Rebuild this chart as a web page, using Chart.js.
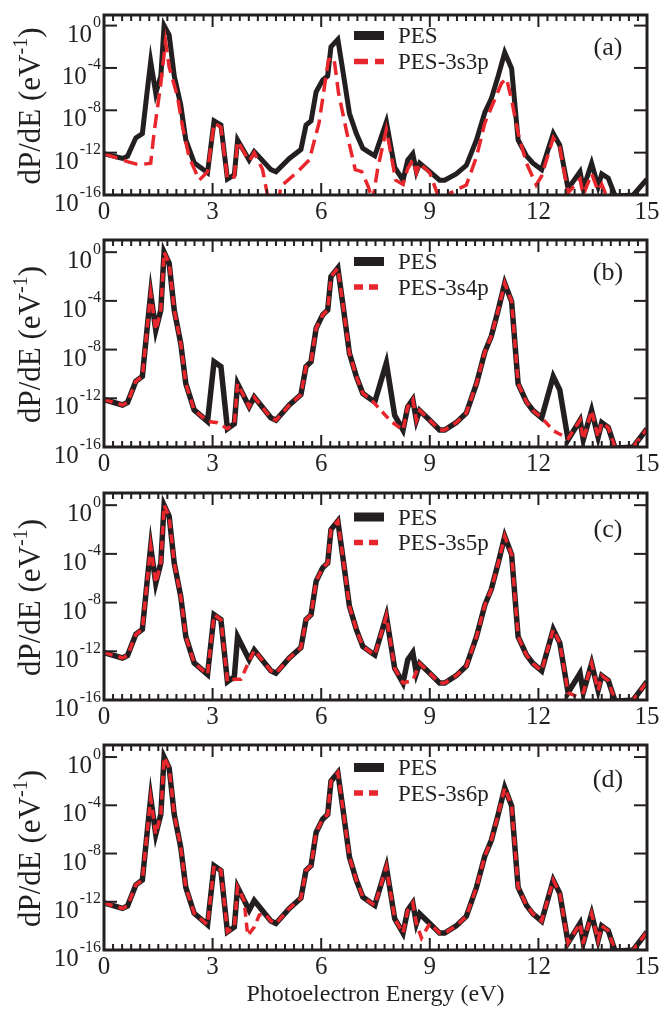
<!DOCTYPE html>
<html>
<head>
<meta charset="utf-8">
<script src="https://cdn.jsdelivr.net/npm/chart.js@4.4.1/dist/chart.umd.min.js"></script>
<style>
  html, body { margin: 0; padding: 0; background: #fff; }
  body { width: 663px; height: 1009px; position: relative; overflow: hidden; }
  .panel { position: absolute; left: 0; width: 663px; }
</style>
</head>
<body>
<div class="panel" style="top:0px;height:232px"><canvas id="chartA" width="663" height="232"></canvas></div>
<div class="panel" style="top:232px;height:250px"><canvas id="chartB" width="663" height="250"></canvas></div>
<div class="panel" style="top:482px;height:250px"><canvas id="chartC" width="663" height="250"></canvas></div>
<div class="panel" style="top:732px;height:277px"><canvas id="chartD" width="663" height="277"></canvas></div>
<script>
// full photoelectron spectrum, energy in eV and log10 of dP/dE
const pesEnergy = [
    0.00, 0.51, 0.65, 0.88, 1.06, 1.20, 1.29, 1.43, 1.57, 1.66,
    1.80, 1.94, 2.12, 2.26, 2.49, 2.86, 3.04, 3.23, 3.41, 3.60,
    3.69, 4.01, 4.15, 4.61, 4.75, 5.12, 5.44, 5.58, 5.72, 5.86,
    6.04, 6.18, 6.27, 6.46, 6.60, 6.78, 6.97, 7.15, 7.38, 7.48,
    7.80, 8.03, 8.26, 8.39, 8.53, 8.63, 8.72, 9.00, 9.27, 9.41,
    9.73, 10.01, 10.29, 10.52, 10.70, 10.89, 11.07, 11.26, 11.44, 11.67,
    11.85, 12.09, 12.41, 12.59, 12.82, 13.15, 13.24, 13.47, 13.65, 13.75,
    13.93, 14.12, 14.62, 15.00
];
const pesLog = [
    -12.1, -12.55, -12.35, -10.6, -10.2, -6.0, -3.4, -6.4, -4.75, 0.0,
    -0.9, -4.75, -7.5, -10.8, -12.95, -13.9, -9.0, -9.4, -14.5, -14.1,
    -10.8, -12.7, -11.9, -13.6, -13.8, -12.55, -11.7, -9.4, -9.0, -6.25,
    -5.15, -4.75, -2.0, -1.3, -4.3, -8.3, -10.2, -11.6, -12.1, -12.3,
    -9.1, -13.4, -14.6, -12.7, -12.1, -13.8, -13.0, -13.8, -14.6, -14.6,
    -14.0, -13.2, -10.8, -8.2, -6.9, -4.75, -2.55, -4.05, -10.8, -12.3,
    -13.0, -13.6, -10.2, -11.3, -15.4, -13.8, -15.4, -13.0, -15.2, -14.0,
    -14.4, -16.1, -16.0, -14.5
];

// PES-3s3p (panel a)
const pes3s3pEnergy = [
    0.00, 0.65, 0.97, 1.29, 1.38, 1.57, 1.70, 1.80, 2.03, 2.17,
    2.35, 2.63, 2.86, 3.04, 3.23, 3.41, 3.60, 3.69, 4.01, 4.15,
    4.38, 4.47, 4.60, 4.80, 4.88, 5.30, 5.67, 5.94, 6.20, 6.35,
    6.48, 6.75, 6.94, 7.12, 7.30, 7.42, 7.56, 7.80, 8.06, 8.26,
    8.39, 8.53, 8.63, 8.72, 9.00, 9.20, 9.35, 9.50, 9.57, 10.01,
    10.29, 10.52, 10.79, 10.98, 11.12, 11.26, 11.44, 11.67, 11.94, 12.09,
    12.41, 12.59, 12.82, 13.15, 13.24, 13.47, 13.65, 13.75, 13.93, 14.10,
    15.00
];
const pes3s3pLog = [
    -12.1, -12.85, -13.15, -13.0, -10.2, -5.45, -1.5, -3.9, -6.7, -9.55,
    -12.4, -14.6, -13.8, -9.2, -9.6, -14.5, -14.3, -10.9, -12.8, -12.0,
    -13.6, -15.2, -17.5, -17.5, -15.2, -13.95, -12.7, -9.2, -3.25, -3.0,
    -6.4, -10.8, -13.6, -13.8, -15.2, -16.6, -13.5, -9.8, -14.6, -15.0,
    -13.5, -12.7, -13.9, -13.0, -13.9, -15.8, -17.5, -17.5, -15.8, -15.05,
    -12.4, -9.2, -7.0, -5.45, -5.0, -7.0, -10.2, -13.0, -15.05, -14.2,
    -10.6, -11.5, -15.8, -14.5, -16.0, -14.0, -15.6, -15.0, -16.5, -17.5,
    -17.5
];

// PES-3s4p (panel b)
const pes3s4pEnergy = [
    0.00, 0.51, 0.65, 0.88, 1.06, 1.20, 1.29, 1.43, 1.57, 1.66,
    1.80, 1.94, 2.12, 2.26, 2.49, 2.86, 3.13, 3.41, 3.60, 3.69,
    4.01, 4.15, 4.61, 4.75, 5.12, 5.44, 5.58, 5.72, 5.86, 6.04,
    6.18, 6.27, 6.46, 6.60, 6.78, 6.97, 7.15, 7.38, 7.65, 7.93,
    8.26, 8.39, 8.53, 8.63, 8.72, 9.00, 9.27, 9.41, 9.73, 10.01,
    10.29, 10.52, 10.70, 10.89, 11.07, 11.26, 11.44, 11.67, 11.85, 12.09,
    12.43, 12.82, 13.15, 13.24, 13.47, 13.65, 13.75, 13.93, 14.12, 14.62,
    15.00
];
const pes3s4pLog = [
    -12.1, -12.55, -12.35, -10.6, -10.2, -6.0, -3.4, -6.4, -4.75, 0.0,
    -0.9, -4.75, -7.5, -10.8, -12.95, -13.9, -14.0, -14.5, -14.1, -10.8,
    -12.7, -11.9, -13.6, -13.8, -12.55, -11.7, -9.4, -9.0, -6.25, -5.15,
    -4.75, -2.0, -1.3, -4.3, -8.3, -10.2, -11.6, -12.1, -13.0, -13.9,
    -14.6, -12.7, -12.1, -13.8, -13.0, -13.8, -14.6, -14.6, -14.0, -13.2,
    -10.8, -8.2, -6.9, -4.75, -2.55, -4.05, -10.8, -12.3, -13.0, -13.6,
    -14.7, -15.3, -13.8, -15.4, -13.0, -15.2, -14.0, -14.4, -16.1, -16.0,
    -14.5
];

// PES-3s5p (panel c)
const pes3s5pEnergy = [
    0.00, 0.51, 0.65, 0.88, 1.06, 1.20, 1.29, 1.43, 1.57, 1.66,
    1.80, 1.94, 2.12, 2.26, 2.49, 2.86, 3.04, 3.23, 3.41, 3.60,
    3.78, 3.92, 4.15, 4.61, 4.75, 5.12, 5.44, 5.58, 5.72, 5.86,
    6.04, 6.18, 6.27, 6.46, 6.60, 6.78, 6.97, 7.15, 7.38, 7.48,
    7.80, 8.03, 8.26, 8.53, 8.72, 9.00, 9.27, 9.41, 9.73, 10.01,
    10.29, 10.52, 10.70, 10.89, 11.07, 11.26, 11.44, 11.67, 11.85, 12.09,
    12.41, 12.59, 12.82, 13.05, 13.24, 13.47, 13.65, 13.75, 13.93, 14.12,
    14.62, 15.00
];
const pes3s5pLog = [
    -12.1, -12.55, -12.35, -10.6, -10.2, -6.0, -3.4, -6.4, -4.75, 0.0,
    -0.9, -4.75, -7.5, -10.8, -12.95, -13.9, -9.0, -9.4, -14.5, -14.3,
    -14.3, -13.4, -11.9, -13.6, -13.8, -12.55, -11.7, -9.4, -9.0, -6.25,
    -5.15, -4.75, -2.0, -1.3, -4.3, -8.3, -10.2, -11.6, -12.1, -12.3,
    -9.1, -13.4, -14.6, -14.4, -13.0, -13.8, -14.6, -14.6, -14.0, -13.2,
    -10.8, -8.2, -6.9, -4.75, -2.55, -4.05, -10.8, -12.3, -13.0, -13.6,
    -10.2, -11.3, -15.4, -15.7, -15.4, -13.0, -15.2, -14.0, -14.4, -16.1,
    -16.0, -14.5
];

// PES-3s6p (panel d)
const pes3s6pEnergy = [
    0.00, 0.51, 0.65, 0.88, 1.06, 1.20, 1.29, 1.43, 1.57, 1.66,
    1.80, 1.94, 2.12, 2.26, 2.49, 2.86, 3.04, 3.23, 3.41, 3.60,
    3.69, 3.87, 3.97, 4.15, 4.29, 4.45, 4.61, 4.75, 5.12, 5.44,
    5.58, 5.72, 5.86, 6.04, 6.18, 6.27, 6.46, 6.60, 6.78, 6.97,
    7.15, 7.38, 7.48, 7.80, 8.03, 8.26, 8.39, 8.53, 8.63, 8.77,
    9.00, 9.27, 9.41, 9.73, 10.01, 10.29, 10.52, 10.70, 10.89, 11.07,
    11.26, 11.44, 11.67, 11.85, 12.09, 12.41, 12.59, 12.82, 13.15, 13.24,
    13.47, 13.65, 13.75, 13.93, 14.12, 14.62, 15.00
];
const pes3s6pLog = [
    -12.1, -12.55, -12.35, -10.6, -10.2, -6.0, -3.4, -6.4, -4.75, 0.0,
    -0.9, -4.75, -7.5, -10.8, -12.95, -13.9, -9.0, -9.4, -14.5, -14.1,
    -10.8, -11.9, -14.8, -14.1, -13.1, -13.0, -13.6, -13.8, -12.55, -11.7,
    -9.4, -9.0, -6.25, -5.15, -4.75, -2.0, -1.3, -4.3, -8.3, -10.2,
    -11.6, -12.1, -12.3, -9.1, -13.4, -14.6, -12.7, -12.1, -13.8, -15.0,
    -13.8, -14.6, -14.6, -14.0, -13.2, -10.8, -8.2, -6.9, -4.75, -2.55,
    -4.05, -10.8, -12.3, -13.0, -13.6, -10.2, -11.3, -15.4, -13.8, -15.4,
    -13.0, -15.2, -14.0, -14.4, -16.1, -16.0, -14.5
];

const yTickExponents = [0, -4, -8, -12, -16];
const panelTags = ['(a)', '(b)', '(c)', '(d)'];
const redLabels = ['PES-3s3p', 'PES-3s4p', 'PES-3s5p', 'PES-3s6p'];

const SERIF = "'Liberation Serif', 'Times New Roman', serif";
const INK = '#231f20';
const RED = '#e8262c';

function toPoints(energies, logs) {
    return energies.map((x, i) => ({ x, y: Math.pow(10, logs[i]) }));
}

// frame with inward ticks, superscript labels, legend and panel tag
const panelDecor = {
    id: 'panelDecor',
    afterDraw(chart, args, opts) {
        const { ctx, chartArea: a } = chart;
        const xs = chart.scales.x;
        const ys = chart.scales.y;
        ctx.save();
        ctx.strokeStyle = INK;
        ctx.fillStyle = INK;
        ctx.lineCap = 'butt';

        const seg = (x1, y1, x2, y2) => {
            ctx.beginPath();
            ctx.moveTo(x1, y1);
            ctx.lineTo(x2, y2);
            ctx.stroke();
        };

        ctx.lineWidth = 2;
        for (let i = 0; i <= 60; i++) {
            const px = xs.getPixelForValue(i * 0.25);
            const len = i % 12 === 0 ? 12 : 6;
            seg(px, a.bottom, px, a.bottom - len);
            seg(px, a.top, px, a.top + len);
        }
        yTickExponents.forEach((e) => {
            const py = ys.getPixelForValue(Math.pow(10, e));
            seg(a.left, py, a.left + 13, py);
            seg(a.right, py, a.right - 13, py);
        });

        ctx.lineWidth = 3;
        ctx.strokeRect(a.left, a.top, a.right - a.left, a.bottom - a.top);

        // y tick labels 10^n
        ctx.textBaseline = 'alphabetic';
        ctx.textAlign = 'right';
        yTickExponents.forEach((e) => {
            const py = ys.getPixelForValue(Math.pow(10, e));
            ctx.font = `16px ${SERIF}`;
            const sup = String(e);
            const supW = ctx.measureText(sup).width;
            ctx.fillText(sup, 101, py + 1.5);
            ctx.font = `25px ${SERIF}`;
            ctx.fillText('10', 101 - supW - 1, py + 16);
        });

        // y axis title, rotated, with superscript
        const parts = [
            { text: 'dP/dE (eV', size: 31, rise: 0 },
            { text: '-1', size: 20, rise: 13 },
            { text: ')', size: 31, rise: 0 }
        ];
        ctx.textAlign = 'left';
        let total = 0;
        parts.forEach((p) => {
            ctx.font = `${p.size}px ${SERIF}`;
            p.w = ctx.measureText(p.text).width;
            total += p.w;
        });
        ctx.translate(40, (a.top + a.bottom) / 2 + 1);
        ctx.rotate(-Math.PI / 2);
        let cx = -total / 2;
        parts.forEach((p) => {
            ctx.font = `${p.size}px ${SERIF}`;
            ctx.fillText(p.text, cx, -p.rise);
            cx += p.w;
        });
        ctx.setTransform(1, 0, 0, 1, 0, 0);

        // legend
        ctx.textBaseline = 'middle';
        ctx.font = `23px ${SERIF}`;
        chart.data.datasets.forEach((ds, i) => {
            const ly = a.top + opts.legendRows[i];
            ctx.save();
            ctx.strokeStyle = ds.borderColor;
            ctx.lineWidth = ds.legendWidth;
            ctx.setLineDash(ds.borderDash || []);
            seg(354, ly, 384, ly);
            ctx.restore();
            ctx.fillText(ds.label, 398, ly + 1.5);
        });

        // panel tag
        ctx.font = `26px ${SERIF}`;
        ctx.textAlign = 'center';
        ctx.fillText(opts.tag, 608, a.top + opts.tagOffset);

        ctx.restore();
    }
};

const panels = [
    { id: 'chartA', padTop: 15, axisH: 37, redE: pes3s3pEnergy, redL: pes3s3pLog, dash: [14, 7], black: 5, red: 3.5, rows: [20.5, 46.5], tagOffset: 33 },
    { id: 'chartB', padTop: 8, axisH: 35, redE: pes3s4pEnergy, redL: pes3s4pLog, dash: [9, 6], black: 5.5, red: 3.5, rows: [21.5, 47], tagOffset: 33 },
    { id: 'chartC', padTop: 11, axisH: 32, redE: pes3s5pEnergy, redL: pes3s5pLog, dash: [9, 6], black: 5.5, red: 3.5, rows: [24, 49.5], tagOffset: 37 },
    { id: 'chartD', padTop: 13, axisH: 59, redE: pes3s6pEnergy, redL: pes3s6pLog, dash: [9, 6], black: 5.5, red: 3.5, rows: [22.5, 48], tagOffset: 35, xTitle: true }
];

panels.forEach((p, idx) => {
    new Chart(document.getElementById(p.id), {
        type: 'line',
        data: {
            datasets: [
                {
                    label: 'PES',
                    data: toPoints(pesEnergy, pesLog),
                    borderColor: INK,
                    borderWidth: p.black,
                    legendWidth: 9,
                    order: 2
                },
                {
                    label: redLabels[idx],
                    data: toPoints(p.redE, p.redL),
                    borderColor: RED,
                    borderWidth: p.red,
                    borderDash: p.dash,
                    legendWidth: 5.5,
                    order: 1
                }
            ]
        },
        options: {
            responsive: false,
            animation: false,
            layout: { padding: { top: p.padTop, right: 16, bottom: 0, left: 0 } },
            elements: {
                point: { radius: 0, hoverRadius: 0 },
                line: { tension: 0, fill: false, borderJoinStyle: 'miter', borderCapStyle: 'butt' }
            },
            plugins: {
                legend: { display: false },
                tooltip: { enabled: false },
                panelDecor: { legendRows: p.rows, tag: panelTags[idx], tagOffset: p.tagOffset }
            },
            scales: {
                x: {
                    type: 'linear',
                    min: 0,
                    max: 15,
                    grid: { display: false, drawTicks: false },
                    border: { display: false },
                    ticks: { stepSize: 3, color: INK, padding: 2, maxRotation: 0, font: { family: SERIF, size: 25 } },
                    title: {
                        display: !!p.xTitle,
                        text: 'Photoelectron Energy (eV)',
                        color: INK,
                        padding: 0,
                        font: { family: SERIF, size: 24 }
                    },
                    afterFit: (scale) => { scale.height = p.axisH; }
                },
                y: {
                    type: 'logarithmic',
                    min: 1e-16,
                    max: 10,
                    grid: { display: false },
                    border: { display: false },
                    ticks: { display: false },
                    afterFit: (scale) => { scale.width = 104; }
                }
            }
        },
        plugins: [panelDecor]
    });
});
</script>
</body>
</html>
